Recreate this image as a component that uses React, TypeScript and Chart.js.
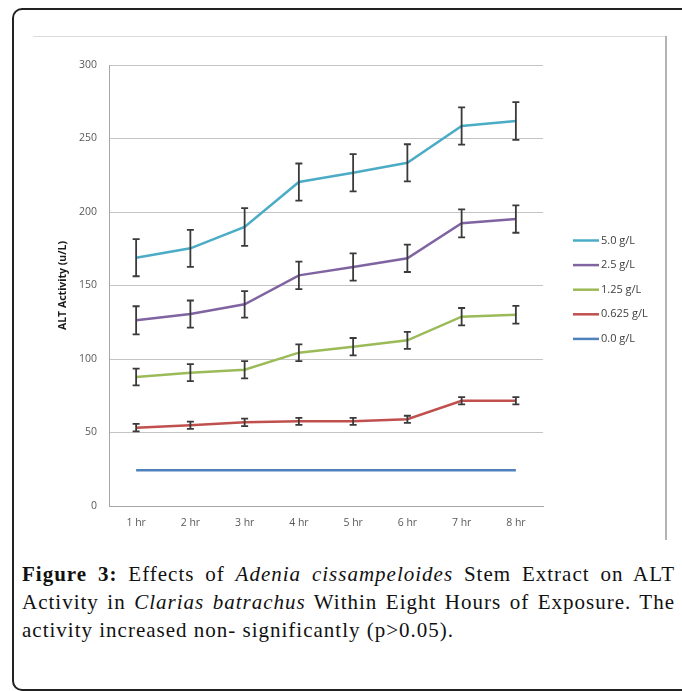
import React, { useEffect, useRef } from "react";
import { Chart, registerables } from "chart.js";

Chart.register(...registerables);

const hours = ["1 hr", "2 hr", "3 hr", "4 hr", "5 hr", "6 hr", "7 hr", "8 hr"];
const seriesLabels = ["5.0 g/L", "2.5 g/L", "1.25 g/L", "0.625 g/L", "0.0 g/L"];
const seriesColors = ["#4bacc6", "#8064a2", "#9bbb59", "#c0504d", "#4f81bd"];

const s50 = [168.9, 175.3, 189.8, 220.4, 226.7, 233.5, 258.5, 261.9];
const e50 = [12.6, 12.6, 12.9, 12.6, 12.7, 12.6, 12.7, 12.8];
const s25 = [126.3, 130.6, 137.2, 156.9, 162.6, 168.5, 192.3, 195.2];
const e25 = [9.6, 9.2, 9.0, 9.3, 9.3, 9.3, 9.5, 9.3];
const s125 = [87.8, 90.7, 92.7, 104.3, 108.4, 112.7, 128.8, 130.1];
const e125 = [5.7, 5.8, 5.9, 5.7, 5.9, 5.8, 5.9, 6.0];
const s0625 = [53.3, 54.9, 56.9, 57.6, 57.6, 59.0, 71.6, 71.6];
const e0625 = [2.6, 2.5, 2.5, 2.4, 2.4, 2.4, 2.5, 2.4];
const s0 = [24.3, 24.3, 24.3, 24.3, 24.3, 24.3, 24.3, 24.3];
const e0: number[] = [];

const yTicks = [0, 50, 100, 150, 200, 250, 300];

const seriesValues = [s50, s25, s125, s0625, s0];
const seriesErrors = [e50, e25, e125, e0625, e0];

const errorBarPlugin = {
  id: "errorBars",
  afterDatasetsDraw(chart: any) {
    const ctx = chart.ctx;
    const x = chart.scales.x;
    const y = chart.scales.y;
    ctx.save();
    ctx.strokeStyle = "#3a3a3a";
    ctx.lineWidth = 1.8;
    chart.data.datasets.forEach((ds: any) => {
      const errs: number[] = ds.errors || [];
      errs.forEach((e, i) => {
        const v = ds.data[i];
        const px = x.getPixelForValue(i);
        const top = y.getPixelForValue(v + e);
        const bot = y.getPixelForValue(v - e);
        ctx.beginPath();
        ctx.moveTo(px, top);
        ctx.lineTo(px, bot);
        ctx.moveTo(px - 3.5, top);
        ctx.lineTo(px + 3.5, top);
        ctx.moveTo(px - 3.5, bot);
        ctx.lineTo(px + 3.5, bot);
        ctx.stroke();
      });
    });
    ctx.restore();
  },
};

const legendPlugin = {
  id: "customLegend",
  afterDraw(chart: any) {
    const ctx = chart.ctx;
    const x0 = chart.chartArea.right + 30;
    const yStart = 203.5;
    const gap = 24.6;
    ctx.save();
    ctx.font = "11px 'Open Sans'";
    ctx.textBaseline = "middle";
    ctx.textAlign = "left";
    chart.data.datasets.forEach((ds: any, i: number) => {
      const yy = yStart + i * gap;
      ctx.strokeStyle = ds.borderColor;
      ctx.lineWidth = 2.5;
      ctx.beginPath();
      ctx.moveTo(x0, yy);
      ctx.lineTo(x0 + 26, yy);
      ctx.stroke();
      ctx.fillStyle = "#404040";
      ctx.fillText(ds.label, x0 + 28, yy);
    });
    ctx.restore();
  },
};

function ChartBox() {
  const ref = useRef<HTMLCanvasElement>(null);
  useEffect(() => {
    if (!ref.current) return;
    const chart = new Chart(ref.current, {
      type: "line",
      data: {
        labels: hours,
        datasets: seriesLabels.map((label, i) => ({
          label,
          data: seriesValues[i],
          errors: seriesErrors[i],
          borderColor: seriesColors[i],
          backgroundColor: seriesColors[i],
          borderWidth: 2.5,
          pointRadius: 0,
          tension: 0,
          fill: false,
        })) as any,
      },
      options: {
        animation: false,
        responsive: false,
        maintainAspectRatio: false,
        layout: { padding: { left: 0, top: 28, right: 122, bottom: 0 } },
        plugins: { legend: { display: false }, tooltip: { enabled: false } },
        scales: {
          x: {
            type: "category",
            offset: true,
            grid: { display: false, drawTicks: false },
            border: { display: true, color: "#a6a6a6", width: 1 },
            ticks: {
              padding: 11,
              color: "#595959",
              font: { family: "'Open Sans'", size: 10.5 },
              maxRotation: 0,
            },
            afterFit: (s: any) => {
              s.height = 34;
            },
          },
          y: {
            min: 0,
            max: 300,
            afterBuildTicks: (s: any) => {
              s.ticks = yTicks.map((v) => ({ value: v }));
            },
            grid: { color: "#c4c4c4", lineWidth: 1, drawTicks: false },
            border: { display: true, color: "#a6a6a6", width: 1 },
            ticks: {
              padding: 12,
              color: "#595959",
              font: { family: "'Open Sans'", size: 10.5 },
            },
            title: {
              display: true,
              text: "ALT Activity (u/L)",
              color: "#1a1a1a",
              font: { family: "'Open Sans'", size: 10.5, weight: "bold" },
              padding: { top: 24, bottom: 0 },
            },
            afterFit: (s: any) => {
              s.width = 76;
            },
          },
        },
      } as any,
      plugins: [errorBarPlugin, legendPlugin],
    });
    return () => chart.destroy();
  }, []);
  return (
    <canvas
      ref={ref}
      width={632}
      height={503}
      style={{ position: "absolute", left: 33, top: 37, width: 632, height: 503 }}
    />
  );
}

export default function App() {
  const lineStyle: React.CSSProperties = {
    textAlign: "justify",
    textAlignLast: "justify",
    whiteSpace: "nowrap",
  };
  return (
    <div
      style={{
        position: "absolute",
        left: 0,
        top: 0,
        width: 682,
        height: 691,
        overflow: "hidden",
        background: "#fff",
      }}
    >
      <div
        style={{
          position: "absolute",
          left: 12,
          top: 8,
          width: 720,
          height: 679,
          border: "2px solid #222",
          borderRadius: 10,
        }}
      />
      <div style={{ position: "absolute", left: 33, top: 36, width: 634, height: 1, background: "#dcdcdc" }} />
      <div style={{ position: "absolute", left: 665, top: 36, width: 2, height: 504, background: "#b4b4b4" }} />
      <ChartBox />
      <div
        style={{
          position: "absolute",
          left: 22,
          top: 560,
          width: 653,
          fontFamily: "'Liberation Serif', serif",
          fontSize: 21,
          lineHeight: "28px",
          letterSpacing: "1px",
          color: "#111",
        }}
      >
        <div style={lineStyle}>
          <b>Figure 3:</b> Effects of <i>Adenia cissampeloides</i> Stem Extract on ALT
        </div>
        <div style={lineStyle}>
          Activity in <i>Clarias batrachus</i> Within Eight Hours of Exposure. The
        </div>
        <div>activity increased non- significantly (p&gt;0.05).</div>
      </div>
    </div>
  );
}
